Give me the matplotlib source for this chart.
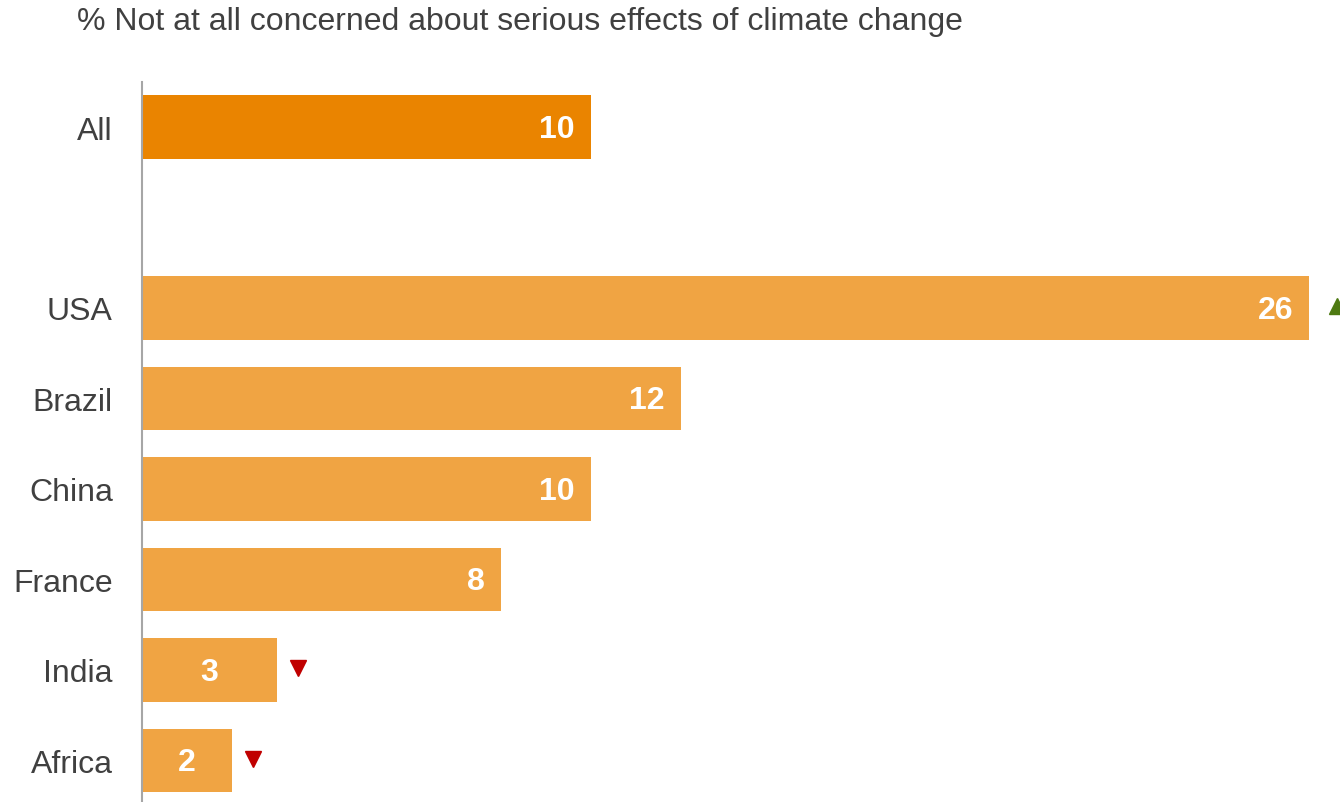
import matplotlib.pyplot as plt

categories = ['All', 'USA', 'Brazil', 'China', 'France', 'India', 'Africa']
values = [10, 26, 12, 10, 8, 3, 2]
# change vs. previous wave: +1 up, -1 down, 0 none
changes = [0, 1, 0, 0, 0, -1, -1]
title = '% Not at all concerned about serious effects of climate change'

plt.rcParams['font.family'] = ['Liberation Sans', 'DejaVu Sans']

# leave an empty slot between the total and the country rows
ypos = [0] + list(range(2, 2 + len(categories) - 1))
colors = ['#EA8400'] + ['#F0A443'] * (len(categories) - 1)

fig = plt.figure(figsize=(13.4, 8.03), dpi=100)
ax = fig.add_axes([142 / 1340, 0, 1 - 142 / 1340, 1 - 83 / 803])

ax.barh(ypos, values, height=0.7, color=colors, zorder=2)

for y, v in zip(ypos, values):
    if v < 5:
        ax.text(v / 2, y + 0.02, str(v), ha='center', va='center',
                color='white', fontsize=23, fontweight='bold')
    else:
        ax.text(v - 0.36, y + 0.02, str(v), ha='right', va='center',
                color='white', fontsize=23, fontweight='bold')

for y, v, c in zip(ypos, values, changes):
    if c > 0:
        ax.plot(v + 0.62, y - 0.02, marker='^', color='#4E7A12', ms=11.5,
                clip_on=True, zorder=3)
    elif c < 0:
        ax.plot(v + 0.48, y - 0.02, marker='v', color='#C00000', ms=11.5,
                clip_on=False, zorder=3)

ax.set_xlim(0, 1198 / 44.9)
ax.set_ylim((803 - 128) / 90.5, -(128 - 83) / 90.5)
ax.set_yticks(ypos)
ax.set_yticklabels(categories, fontsize=23, color='#404040')
ax.tick_params(axis='y', length=0, pad=21)
ax.set_xticks([])
for side in ['top', 'right', 'bottom']:
    ax.spines[side].set_visible(False)
ax.spines['left'].set_color('#A6A6A6')
ax.spines['left'].set_linewidth(1.5)

fig.text(77 / 1340, 1 - 22 / 803, title, ha='left', va='center',
         fontsize=23, color='#404040')

fig.savefig('out.png', dpi=100)
